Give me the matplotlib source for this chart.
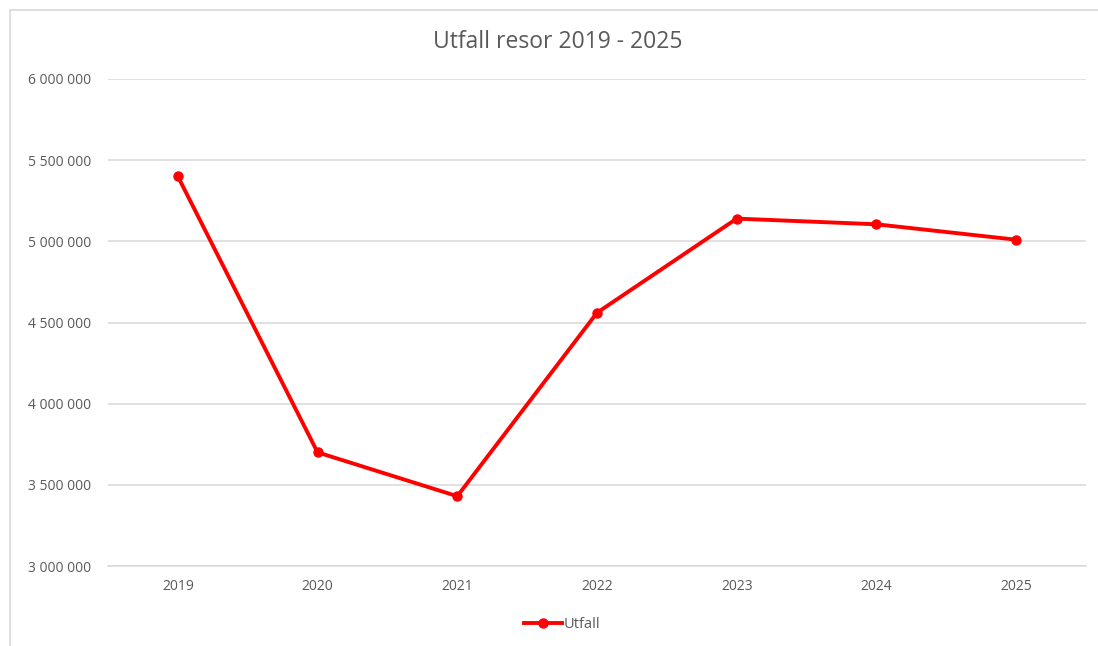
import matplotlib
matplotlib.use("Agg")
import matplotlib.pyplot as plt
from matplotlib.ticker import FuncFormatter
from matplotlib.patches import Rectangle

years = ["2019", "2020", "2021", "2022", "2023", "2024", "2025"]
utfall = [5400000, 3700000, 3430000, 4560000, 5140000, 5105000, 5010000]

plt.rcParams['font.family'] = ['Open Sans', 'DejaVu Sans']

fig = plt.figure(figsize=(10.98, 6.46), dpi=100)
ax = fig.add_axes([108 / 1098, 1 - 566 / 646, (1086 - 108) / 1098, (566 - 79) / 646])

# outer chart frame (right and bottom edges run off the picture)
fig.patches.append(Rectangle((10 / 1098, -0.05), 1.1, 1 - 10 / 646 + 0.05,
                             transform=fig.transFigure, fill=False,
                             edgecolor='#d9d9d9', linewidth=1.2))

x = list(range(len(years)))
ax.plot(x, utfall, color='#ff0000', linewidth=2.8, marker='o', markersize=6.5,
        label='Utfall', solid_joinstyle='round')

ax.set_xlim(-0.5, len(years) - 0.5)
ax.set_ylim(3000000, 6000000)
ax.set_yticks(range(3000000, 6000001, 500000))
ax.yaxis.set_major_formatter(FuncFormatter(lambda v, p: f"{int(v):,}".replace(",", " ")))
ax.set_xticks(x)
ax.set_xticklabels(years)

ax.grid(axis='y', color='#d9d9d9', linewidth=1.1)
ax.set_axisbelow(True)
for s in ['top', 'right', 'left']:
    ax.spines[s].set_visible(False)
ax.spines['bottom'].set_color('#d9d9d9')
ax.spines['bottom'].set_linewidth(1.1)
ax.tick_params(axis='both', length=0, labelsize=10, labelcolor='#595959')
ax.tick_params(axis='y', pad=12)
ax.tick_params(axis='x', pad=9)

fig.text(558 / 1098, 1 - 42 / 646, "Utfall resor 2019 - 2025", ha='center', va='center',
         fontsize=16.5, color='#595959')

fig.legend(loc='center', bbox_to_anchor=(562 / 1098, 1 - 625 / 646), frameon=False,
           fontsize=10.5, labelcolor='#595959', handlelength=2.6, handletextpad=0.15)

fig.savefig("out.png", dpi=100)
